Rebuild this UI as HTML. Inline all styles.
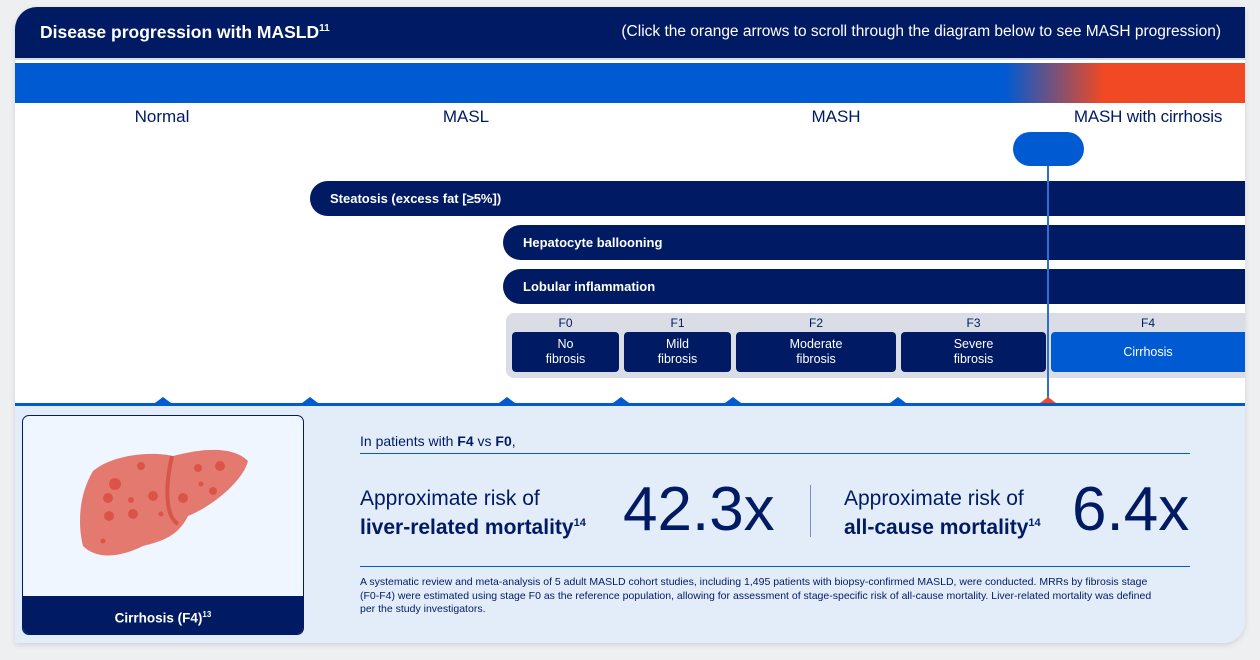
<!DOCTYPE html>
<html><head><meta charset="utf-8"><style>
*{margin:0;padding:0;box-sizing:border-box}
body{width:1260px;height:660px;background:#eeeff1;font-family:"Liberation Sans",sans-serif;position:relative;overflow:hidden;color:#001b64}
.a{position:absolute}
.card{left:15px;top:7px;width:1230px;height:636px;background:#fff;border-radius:22px 0 22px 0;overflow:hidden;box-shadow:0 2px 6px rgba(0,0,0,.12)}
.hdr{left:0;top:0;width:1230px;height:51px;background:#001b64;color:#fff}
.bar{background:#001b64;color:#fff;font-weight:bold;font-size:13px;line-height:35px;padding-left:20px;height:35px;border-radius:18px 0 0 18px}
.lbl{font-size:17px;top:100px;text-align:center;width:300px}
.fl{font-size:12px;top:309px;text-align:center}
.fb{top:325px;height:40px;background:#001b64;color:#fff;font-size:12.5px;line-height:15px;border-radius:4px;display:flex;align-items:center;justify-content:center;text-align:center}
.tri{top:390px;width:0;height:0;border-left:8px solid transparent;border-right:8px solid transparent;border-bottom:6px solid #005ad2}
</style></head><body>
<div class="a card">
 <div class="a hdr">
  <div class="a" style="left:25px;top:15px;font-size:17.5px;font-weight:bold">Disease progression with MASLD<sup style="font-size:10px">11</sup></div>
  <div class="a" style="right:24px;top:16px;font-size:15.5px">(Click the orange arrows to scroll through the diagram below to see MASH progression)</div>
 </div>
 <div class="a" style="left:0;top:51px;width:1230px;height:2px;background:#d8dce6"></div>
 <div class="a" style="left:0;top:56px;width:1230px;height:40px;background:linear-gradient(90deg,#005ad2 0,#005ad2 80.5%,#f04923 88.5%,#f04923 100%)"></div>
 <div class="a lbl" style="left:-3px">Normal</div>
 <div class="a lbl" style="left:301px">MASL</div>
 <div class="a lbl" style="left:671px">MASH</div>
 <div class="a lbl" style="left:983px;letter-spacing:-0.2px">MASH with cirrhosis</div>
 <div class="a" style="left:998px;top:125px;width:71px;height:34px;background:#005ad2;border-radius:17px"></div>
 <div class="a bar" style="left:295px;top:174px;width:935px">Steatosis (excess fat [≥5%])</div>
 <div class="a bar" style="left:488px;top:218px;width:742px">Hepatocyte ballooning</div>
 <div class="a bar" style="left:488px;top:262px;width:742px">Lobular inflammation</div>
 <div class="a" style="left:491px;top:306px;width:739px;height:65px;background:#dadde6;border-radius:8px 0 0 8px"></div>
 <div class="a fl" style="left:497px;width:107px">F0</div>
 <div class="a fl" style="left:609px;width:107px">F1</div>
 <div class="a fl" style="left:721px;width:160px">F2</div>
 <div class="a fl" style="left:886px;width:145px">F3</div>
 <div class="a fl" style="left:1036px;width:194px">F4</div>
 <div class="a fb" style="left:497px;width:107px">No<br>fibrosis</div>
 <div class="a fb" style="left:609px;width:107px">Mild<br>fibrosis</div>
 <div class="a fb" style="left:721px;width:160px">Moderate<br>fibrosis</div>
 <div class="a fb" style="left:886px;width:145px">Severe<br>fibrosis</div>
 <div class="a fb" style="left:1036px;width:194px;background:#005ad2;border-radius:4px 0 0 4px">Cirrhosis</div>
 <div class="a" style="left:1032px;top:159px;width:2px;height:237px;background:#2f6fd0"></div>
 <div class="a tri" style="left:140px"></div><div class="a tri" style="left:287px"></div><div class="a tri" style="left:484px"></div><div class="a tri" style="left:598px"></div><div class="a tri" style="left:710px"></div><div class="a tri" style="left:875px"></div><div class="a tri" style="left:1025px;border-bottom-color:#f04923"></div>
 <div class="a" style="left:0;top:396px;width:1230px;height:3px;background:#005ad2"></div>
 <div class="a" style="left:0;top:399px;width:1230px;height:237px;background:#e3edfa"></div>
 <div class="a" style="left:7px;top:408px;width:282px;height:220px;background:#f0f6ff;border:1px solid #001b64;border-radius:7px;overflow:hidden">
  <svg class="a" style="left:50px;top:30px" width="180" height="120" viewBox="0 0 180 120">
   <path d="M20 25 C40 8,80 5,100 10 C130 2,160 0,175 15 C170 35,140 60,115 70 C105 90,90 95,70 100 C50 110,25 115,10 100 C5 80,5 50,20 25Z" fill="#e47a6f"/>
   <path d="M99 10 C92 40,92 70,105 78" stroke="#d9554a" stroke-width="4" fill="none"/>
   <g fill="#dc5448"><circle cx="42" cy="38" r="6"/><circle cx="68" cy="20" r="4"/><circle cx="36" cy="70" r="5"/><circle cx="60" cy="68" r="5"/><circle cx="80" cy="50" r="5"/><circle cx="35" cy="52" r="5"/><circle cx="58" cy="54" r="3"/><circle cx="125" cy="22" r="4"/><circle cx="147" cy="20" r="5"/><circle cx="140" cy="45" r="4"/><circle cx="110" cy="52" r="5"/><circle cx="128" cy="38" r="2.5"/><circle cx="30" cy="95" r="2.5"/><circle cx="88" cy="68" r="2.5"/></g>
  </svg>
  <div class="a" style="left:0;bottom:0;width:100%;height:38px;background:#001b64;color:#fff;font-weight:bold;font-size:13.5px;text-align:center;line-height:38px">Cirrhosis (F4)<sup style="font-size:8px">13</sup></div>
 </div>
 <div class="a" style="left:345px;top:426px;font-size:14px">In patients with <b>F4</b> vs <b>F0</b>,</div>
 <div class="a" style="left:345px;top:446px;width:830px;height:1px;background:#005ad2"></div>
 <div class="a" style="left:345px;top:479px;font-size:21px;line-height:25px">Approximate risk of<br><b>liver-related mortality</b><sup style="font-size:11px;font-weight:bold">14</sup></div>
 <div class="a" style="left:608px;top:468px;font-size:62px;line-height:70px">42.3x</div>
 <div class="a" style="left:795px;top:478px;width:1px;height:52px;background:#7a8fb8"></div>
 <div class="a" style="left:829px;top:479px;font-size:21px;line-height:25px">Approximate risk of<br><b>all-cause mortality</b><sup style="font-size:11px;font-weight:bold">14</sup></div>
 <div class="a" style="left:1057px;top:468px;font-size:62px;line-height:70px">6.4x</div>
 <div class="a" style="left:345px;top:559px;width:830px;height:1px;background:#005ad2"></div>
 <div class="a" style="left:345px;top:569px;width:808px;font-size:10.5px;line-height:13.5px">A systematic review and meta-analysis of 5 adult MASLD cohort studies, including 1,495 patients with biopsy-confirmed MASLD, were conducted. MRRs by fibrosis stage (F0-F4) were estimated using stage F0 as the reference population, allowing for assessment of stage-specific risk of all-cause mortality. Liver-related mortality was defined per the study investigators.</div>
</div>
</body></html>
